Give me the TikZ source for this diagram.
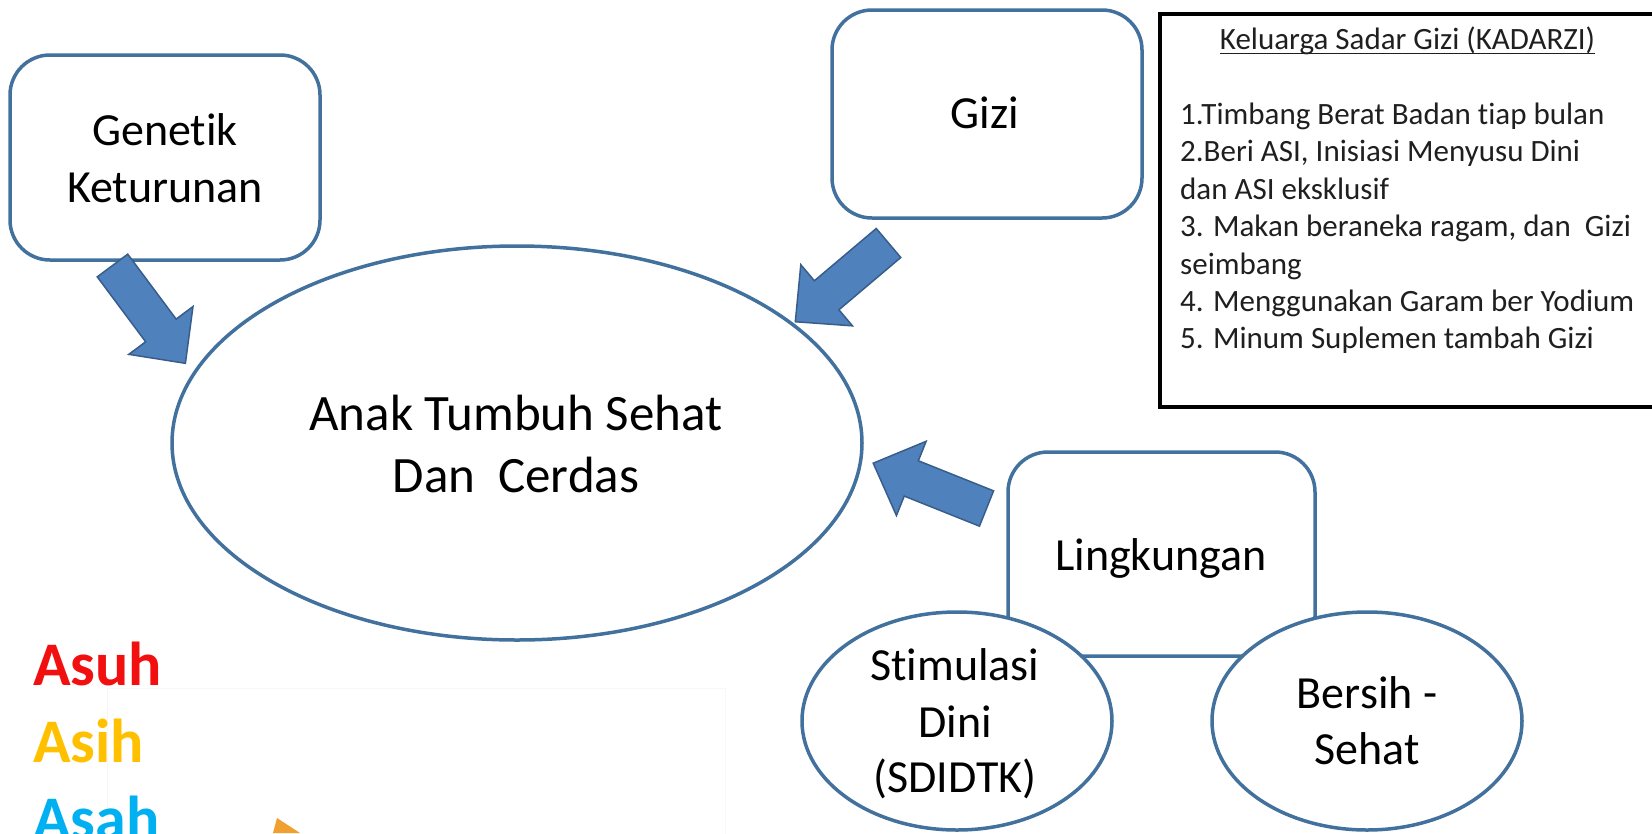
\documentclass[tikz,border=0pt]{standalone}
\usepackage{fontspec}
\setmainfont{Carlito}[Ligatures=NoCommon]
\usetikzlibrary{shapes.geometric}
\definecolor{lineblue}{HTML}{41719C}
\definecolor{fillblue}{HTML}{4F81BD}
\definecolor{arrowline}{HTML}{385D8A}
\definecolor{asuhred}{HTML}{F20F0F}
\definecolor{asihyellow}{HTML}{FFC000}
\definecolor{asahblue}{HTML}{00B0F0}
\definecolor{orangetip}{HTML}{F0A030}
\begin{document}
\begin{tikzpicture}[x=1pt,y=-1pt,
  box/.style={draw=lineblue, line width=3.5pt, fill=white, rounded corners=40pt, inner sep=0pt},
  oval/.style={ellipse, draw=lineblue, line width=3.5pt, fill=white, inner sep=0pt},
  lbl/.style={inner sep=0pt, anchor=base, font=\fontsize{46}{56}\selectfont},
  big/.style={inner sep=0pt, anchor=base, font=\fontsize{51}{62}\selectfont},
  item/.style={inner sep=0pt, anchor=base west, font=\fontsize{31}{37}\selectfont, text=black!88},
  triad/.style={inner sep=0pt, anchor=base west, font=\bfseries\fontsize{62}{76}\selectfont},
  blockarrow/.style={fill=fillblue, draw=arrowline, line width=1.5pt, line join=miter}
]
\path[use as bounding box, fill=white] (0,0) rectangle (1652,833);
\begin{scope}
\clip (0,0) rectangle (1652,833);

% faint background frame and orange tip (bottom left)
\draw[black!3, line width=1pt] (107,688) rectangle (725,860);
\fill[orangetip] (273,833) -- (277,818) -- (300,833) -- cycle;

% shapes
\node[box, minimum width=310pt, minimum height=205pt] (genetik) at (165,157.5) {};
\node[box, minimum width=310pt, minimum height=208pt] (gizi) at (987,114) {};
\node[box, minimum width=307pt, minimum height=204pt] (lingk) at (1161.5,554) {};
\node[oval, minimum width=690pt, minimum height=394pt] (anak) at (517,443) {};
\node[oval, minimum width=310pt, minimum height=218pt] (stim) at (957,721) {};
\node[oval, minimum width=310pt, minimum height=218pt] (bersih) at (1367,721) {};

% KADARZI box
\node[draw=black, line width=4pt, fill=white, inner sep=0pt, anchor=north west,
      minimum width=510pt, minimum height=393pt] (kadarzi) at (1158,12) {};

% block arrows
\begin{scope}[shift={(112.5,265.5)}, rotate=-53.3]
\draw[blockarrow] (0,-19) -- (81,-19) -- (81,-40) -- (122,0) -- (81,40) -- (81,19) -- (0,19) -- cycle;
\end{scope}
\begin{scope}[shift={(888.5,243)}, rotate=-139.8]
\draw[blockarrow] (0,-19) -- (81,-19) -- (81,-40) -- (122,0) -- (81,40) -- (81,19) -- (0,19) -- cycle;
\end{scope}
\begin{scope}[shift={(986.5,508.5)}, rotate=158.2]
\draw[blockarrow] (0,-19) -- (81,-19) -- (81,-40) -- (122,0) -- (81,40) -- (81,19) -- (0,19) -- cycle;
\end{scope}

% texts
\node[lbl] (gen1) at (165,145) {Genetik};
\node[lbl] (gen2) at (165,202) {Keturunan};
\node[lbl] (gizit) at (985,128) {Gizi};
\node[big] (anak1) at (516,430) {Anak Tumbuh Sehat};
\node[big] (anak2) at (516,492) {Dan~ Cerdas};
\node[lbl] (lingt) at (1161,570) {Lingkungan};
\node[lbl] (stim1) at (955,680) {Stimulasi};
\node[lbl] (stim2) at (955,737) {Dini};
\node[lbl] (stim3) at (955,792) {(SDIDTK)};
\node[lbl] (bers1) at (1367,708) {Bersih -};
\node[lbl] (bers2) at (1367,764) {Sehat};

% KADARZI texts
\node[item, anchor=base] (title) at (1407.5,49.5) {Keluarga Sadar Gizi (KADARZI)};
\draw[black!88, line width=1.5pt] ([yshift=-4pt]title.base west) -- ([yshift=-4pt]title.base east);
\node[item] (k1) at (1180,124.5) {1.Timbang Berat Badan tiap bulan};
\node[item] (k2) at (1180,161.9) {2.Beri ASI, Inisiasi Menyusu Dini};
\node[item] (k3) at (1180,199.3) {dan ASI eksklusif};
\node[item] (k4) at (1180,236.7) {3. Makan beraneka ragam, dan\ \ Gizi};
\node[item] (k5) at (1180,274.1) {seimbang};
\node[item] (k6) at (1180,311.5) {4. Menggunakan Garam ber Yodium};
\node[item] (k7) at (1180,348.9) {5. Minum Suplemen tambah Gizi};

% Asuh Asih Asah
\node[triad, text=asuhred] (asuh) at (33,685) {Asuh};
\node[triad, text=asihyellow] (asih) at (33,762) {Asih};
\node[triad, text=asahblue] (asah) at (33,839) {Asah};
\end{scope}
\end{tikzpicture}
\end{document}
